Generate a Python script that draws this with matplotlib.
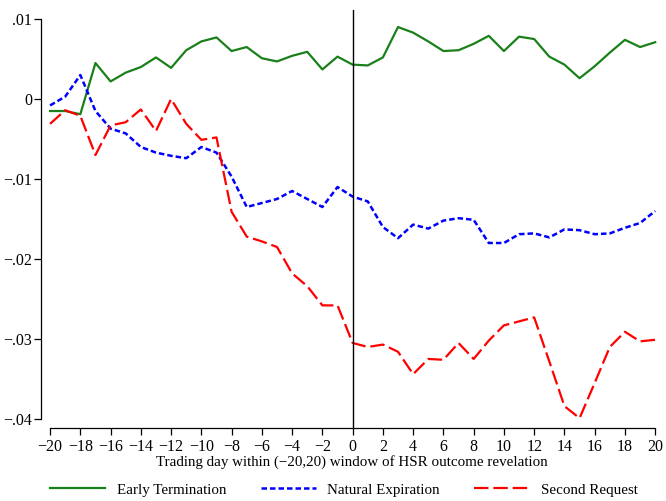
import numpy as np
import matplotlib
matplotlib.use("Agg")
import matplotlib.pyplot as plt
from matplotlib.ticker import FuncFormatter

plt.rcParams['font.family'] = ['Liberation Serif', 'DejaVu Serif']

days = np.arange(-20, 21)

early_term = [-0.0015, -0.0015, -0.0019, 0.0045, 0.0022, 0.0033, 0.0040, 0.0052, 0.0039, 0.0061,
              0.0072, 0.0077, 0.0060, 0.0065, 0.0051, 0.0047, 0.0054, 0.0059, 0.0037, 0.0053,
              0.0043, 0.0042, 0.0052, 0.0090, 0.0083, 0.0072, 0.0060, 0.0061, 0.0069, 0.0079,
              0.0060, 0.0078, 0.0075, 0.0053, 0.0043, 0.0026, 0.0041, 0.0058, 0.0074, 0.0065,
              0.0071]

natural_exp = [-0.0008, 0.0003, 0.0030, -0.0015, -0.0037, -0.0043, -0.0060, -0.0067, -0.0071, -0.0074,
               -0.0060, -0.0067, -0.0097, -0.0135, -0.0130, -0.0125, -0.0115, -0.0125, -0.0135, -0.0110,
               -0.0122, -0.0128, -0.0160, -0.0174, -0.0157, -0.0162, -0.0152, -0.0149, -0.0151, -0.0180,
               -0.0180, -0.0169, -0.0168, -0.0173, -0.0163, -0.0164, -0.0169, -0.0168, -0.0161, -0.0155,
               -0.0140]

second_req = [-0.0031, -0.0014, -0.0021, -0.0070, -0.0033, -0.0029, -0.0013, -0.0040, 0.0000, -0.0031,
              -0.0051, -0.0048, -0.0141, -0.0172, -0.0178, -0.0185, -0.0218, -0.0234, -0.0258, -0.0258,
              -0.0305, -0.0310, -0.0307, -0.0316, -0.0344, -0.0325, -0.0326, -0.0305, -0.0325, -0.0302,
              -0.0283, -0.0278, -0.0273, -0.0328, -0.0384, -0.0399, -0.0355, -0.0310, -0.0291, -0.0303,
              -0.0301]

x_ticks = np.arange(-20, 21, 2)
y_ticks = [-0.04, -0.03, -0.02, -0.01, 0, 0.01]


def stata_fmt(v, pos):
    if abs(v) < 1e-12:
        return "0"
    s = ("%.2f" % abs(v)).lstrip("0")
    return ("\u2212" if v < 0 else "") + s


def int_fmt(v, pos):
    v = int(round(v))
    return ("\u2212" if v < 0 else "") + str(abs(v))


fig = plt.figure(figsize=(6.66, 5.01), dpi=100)
ax = fig.add_axes([41 / 666, 1 - 428 / 501, (662 - 41) / 666, (428 - 10) / 501])

ax.plot(days, early_term, color="#1a801a", linewidth=1.6, label="Early Termination")
ax.plot(days, natural_exp, color="#0000ff", linewidth=1.8, dashes=(2.2, 1.2), label="Natural Expiration")
ax.plot(days, second_req, color="#ff0000", linewidth=1.6, dashes=(6.5, 2.2), label="Second Request")
ax.axvline(0, color="black", linewidth=1.0)

ax.set_xlim(-20.6, 20.45)
ax.set_ylim(-0.04113, 0.01113)
ax.set_xticks(x_ticks)
ax.set_yticks(y_ticks)
ax.xaxis.set_major_formatter(FuncFormatter(int_fmt))
ax.yaxis.set_major_formatter(FuncFormatter(stata_fmt))
ax.tick_params(direction="out", length=5, width=0.9, labelsize=11.5, pad=3)
ax.tick_params(axis="y", pad=1.5)

for s in ["top", "right"]:
    ax.spines[s].set_visible(False)
ax.spines["left"].set_bounds(-0.04, 0.01)
ax.spines["bottom"].set_bounds(-20, 20)
ax.spines["left"].set_linewidth(0.9)
ax.spines["bottom"].set_linewidth(0.9)

ax.set_xlabel("Trading day within (\u221220,20) window of HSR outcome revelation", fontsize=10.8, labelpad=0)

fig.legend(loc="center", bbox_to_anchor=(0.5165, 0.022), ncol=3, frameon=False,
           fontsize=10.8, handlelength=3.7, columnspacing=2.3, handletextpad=0.75,
           borderaxespad=0, borderpad=0)

fig.savefig("out.png", dpi=100)
